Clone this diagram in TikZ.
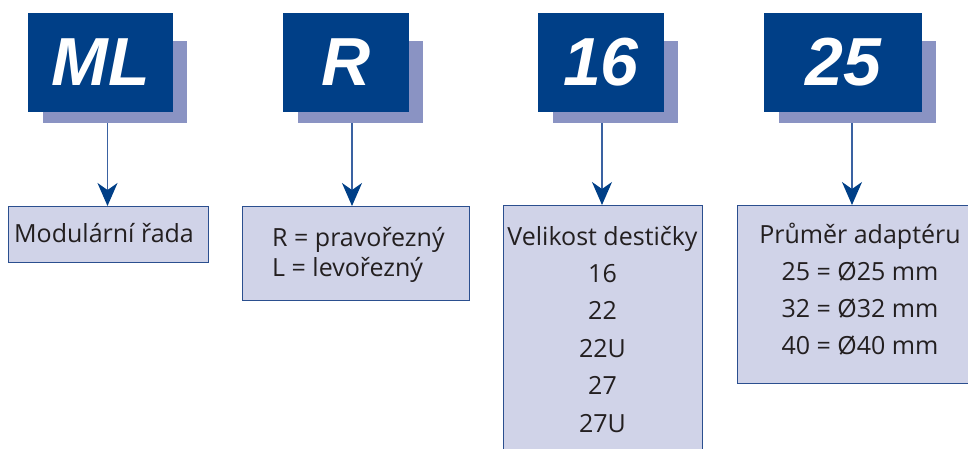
\documentclass[tikz,border=0pt]{standalone}
\usepackage{fontspec}
\setmainfont{Open Sans}
\newfontfamily\headfont{Liberation Sans}
\usetikzlibrary{arrows.meta,backgrounds}
\definecolor{darkb}{HTML}{003F87}
\definecolor{shadowc}{HTML}{8A93C3}
\definecolor{boxfill}{HTML}{D0D3E8}
\definecolor{boxline}{HTML}{2B4F8F}
\definecolor{arrc}{HTML}{3A62A2}
\definecolor{txt}{HTML}{231F20}
\tikzset{
  topbox/.style={fill=darkb, text=white, inner sep=0pt, minimum height=99pt,
    font=\headfont\bfseries\itshape\fontsize{68}{68}\selectfont},
  infobox/.style={fill=boxfill, draw=boxline, line width=1pt, inner sep=0pt, anchor=north west},
  line/.style={text=txt, font=\fontsize{25}{30}\selectfont, inner sep=0pt, anchor=base},
  arr/.style={draw=arrc, line width=1.4pt, -{Stealth[length=23pt, width=20pt, inset=7pt, color=darkb]}},
}
\begin{document}
\begin{tikzpicture}[x=1pt, y=-1pt]
\useasboundingbox (0,0) rectangle (968,448);
\clip (0,0) rectangle (968,448);
% top boxes
\node[topbox, minimum width=145pt] (ml) at (100.5,62.5) {ML};
\node[topbox, minimum width=126pt] (r) at (346,62.5) {R};
\node[topbox, minimum width=126pt] (s16) at (601,62.5) {16};
\node[topbox, minimum width=158pt] (s25) at (843,62.5) {25};
\begin{pgfonlayer}{background}
\foreach \n in {ml,r,s16,s25}{
  \fill[shadowc] ([shift={(15,28)}]\n.north west) rectangle ([shift={(14,11)}]\n.south east);
}
\end{pgfonlayer}
% info boxes
\node[infobox, minimum width=200pt, minimum height=56pt] (b1) at (8,206) {};
\node[infobox, minimum width=227pt, minimum height=94pt] (b2) at (242,206) {};
\node[infobox, minimum width=199pt, minimum height=260pt] (b3) at (503,205) {};
\node[infobox, minimum width=248pt, minimum height=178pt] (b4) at (737,205) {};
% arrows
\draw[arr] ([shift={(7,11)}]ml.south) -- ([xshift=7pt]ml.south |- b1.north);
\draw[arr] ([shift={(6,11)}]r.south) -- ([xshift=6pt]r.south |- b2.north);
\draw[arr] ([shift={(1,11)}]s16.south) -- ([xshift=1pt]s16.south |- b3.north);
\draw[arr] ([shift={(9,11)}]s25.south) -- ([xshift=9pt]s25.south |- b4.north);
% texts
\node[line] (t1) at (104,242) {Modulární řada};
\node[line, anchor=base west] (t2a) at (272,246) {R = pravořezný};
\node[line, anchor=base west] (t2b) at (272,276) {L = levořezný};
\foreach \t [count=\i] in {Velikost destičky,16,22,22U,27,27U}{
  \node[line] (t3-\i) at (602.5,{245+37.4*(\i-1)}) {\t};
}
\foreach \t [count=\i] in {Průměr adaptéru,25 = Ø25 mm,32 = Ø32 mm,40 = Ø40 mm}{
  \node[line] (t4-\i) at (860,{243+37*(\i-1)}) {\t};
}
\end{tikzpicture}
\end{document}
